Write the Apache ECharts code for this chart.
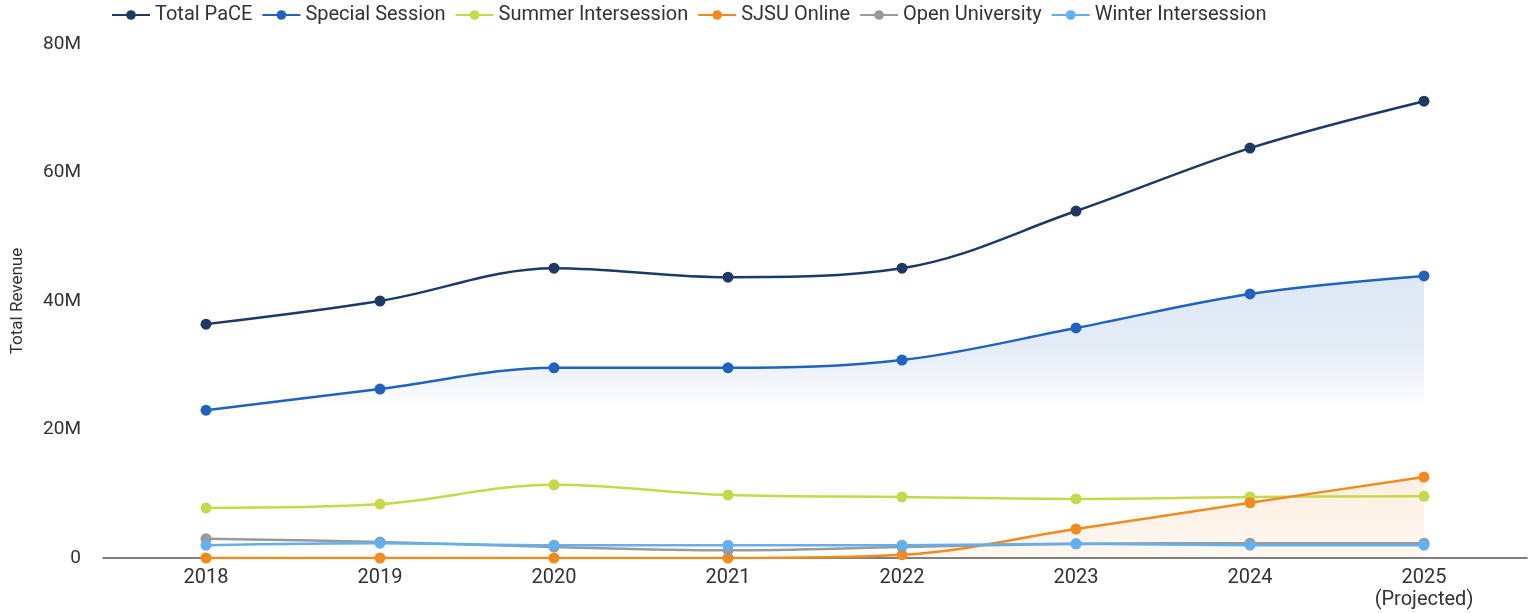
<!DOCTYPE html>
<html>
<head>
<meta charset="utf-8">
<title>Total Revenue by Program</title>
<script src="https://cdn.jsdelivr.net/npm/echarts@6/dist/echarts.min.js"></script>
<style>
  html, body { margin: 0; padding: 0; background: #ffffff; }
  #chart { width: 1532px; height: 613px; }
</style>
</head>
<body>
<div id="chart"></div>
<script>
// Fiscal years on the horizontal axis
const years = [2018, 2019, 2020, 2021, 2022, 2023, 2024, 2025];
const yearLabels = ['2018', '2019', '2020', '2021', '2022', '2023', '2024', '2025\n(Projected)'];

// Revenue per program, in millions of dollars
const totalPaCE          = [36.4, 40.0, 45.1, 43.7, 45.1, 54.0, 63.8, 71.1];
const specialSession     = [23.0, 26.3, 29.6, 29.6, 30.8, 35.8, 41.1, 43.9];
const summerIntersession = [7.8, 8.4, 11.4, 9.8, 9.5, 9.2, 9.5, 9.6];
const sjsuOnline         = [0, 0, 0, 0, 0.5, 4.5, 8.6, 12.6];
const openUniversity     = [3.0, 2.5, 1.7, 1.2, 1.7, 2.2, 2.3, 2.3];
const winterIntersession = [2.0, 2.3, 2.0, 2.0, 2.0, 2.2, 2.0, 2.0];

// Value-axis ticks (in millions)
const yTicks = [0, 20, 40, 60, 80];

const FONT = 'Roboto';

function pairs(values) {
  return years.map((y, i) => [y, values[i] * 1e6]);
}

function lineSeries(name, values, color, extra) {
  return Object.assign({
    name: name,
    type: 'line',
    data: pairs(values),
    smooth: 0.35,
    symbol: 'circle',
    symbolSize: 11,
    lineStyle: { width: 2.5, color: color },
    itemStyle: { color: color },
    emphasis: { disabled: true }
  }, extra || {});
}

const chart = echarts.init(document.getElementById('chart'), null, { renderer: 'canvas' });

chart.setOption({
  animation: false,
  backgroundColor: '#ffffff',
  textStyle: { fontFamily: FONT },
  legend: {
    top: 0,
    left: 106,
    itemWidth: 38,
    itemHeight: 12,
    itemGap: 9,
    textStyle: { fontFamily: FONT, fontSize: 20, color: '#333333' },
    data: ['Total PaCE', 'Special Session', 'Summer Intersession', 'SJSU Online', 'Open University', 'Winter Intersession']
  },
  grid: { left: 103, right: 5, top: 44, bottom: 55, containLabel: false, outerBoundsMode: 'none' },
  xAxis: {
    type: 'value',
    min: 2017.408,
    max: 2025.592,
    splitLine: { show: false },
    axisLine: { show: true, lineStyle: { color: '#555555', width: 1.5 } },
    axisTick: { show: false },
    axisLabel: {
      customValues: years,
      formatter: function (v) {
        const idx = years.indexOf(Math.round(v));
        return idx >= 0 ? yearLabels[idx] : '';
      },
      fontFamily: FONT,
      fontSize: 20,
      color: '#333333',
      margin: 9,
      lineHeight: 22
    }
  },
  yAxis: {
    type: 'value',
    min: yTicks[0] * 1e6,
    max: yTicks[yTicks.length - 1] * 1e6,
    interval: 20e6,
    name: 'Total Revenue',
    nameLocation: 'middle',
    nameGap: 77,
    nameTextStyle: { fontFamily: FONT, fontSize: 17, color: '#333333' },
    splitLine: { show: false },
    axisLine: { show: false },
    axisTick: { show: false },
    axisLabel: {
      fontFamily: FONT,
      fontSize: 19,
      color: '#333333',
      margin: 22,
      formatter: function (v) { return v === 0 ? '0' : (v / 1e6) + 'M'; }
    }
  },
  series: [
    lineSeries('Total PaCE', totalPaCE, '#1d3a64'),
    lineSeries('Special Session', specialSession, '#1f63bf', {
      areaStyle: {
        color: new echarts.graphic.LinearGradient(0, 0, 0, 1, [
          { offset: 0, color: 'rgba(60,120,195,0.24)' },
          { offset: 0.24, color: 'rgba(60,120,195,0.21)' },
          { offset: 0.48, color: 'rgba(60,120,195,0)' },
          { offset: 1, color: 'rgba(60,120,195,0)' }
        ])
      }
    }),
    lineSeries('Summer Intersession', summerIntersession, '#c6d94a'),
    lineSeries('SJSU Online', sjsuOnline, '#f28b1e', {
      areaStyle: {
        color: new echarts.graphic.LinearGradient(0, 0, 0, 1, [
          { offset: 0, color: 'rgba(245,150,60,0.22)' },
          { offset: 1, color: 'rgba(245,150,60,0.10)' }
        ])
      }
    }),
    lineSeries('Open University', openUniversity, '#9a9a9a'),
    lineSeries('Winter Intersession', winterIntersession, '#62b0ef')
  ]
});
</script>
</body>
</html>
